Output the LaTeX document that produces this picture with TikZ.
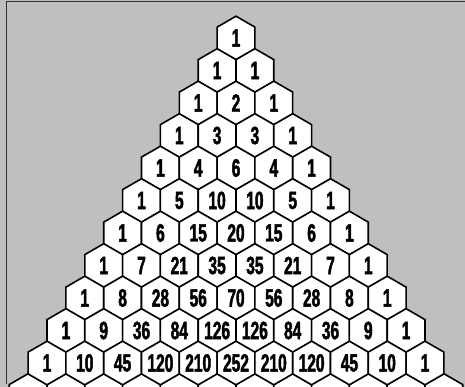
\documentclass[tikz,border=0pt]{standalone}
\usepackage{fontspec}
\newfontfamily\numfont[FakeStretch=0.62,FakeBold=1.8]{Liberation Sans}
\definecolor{bggray}{gray}{0.75}
\begin{document}
\begin{tikzpicture}[x=1pt,y=-1pt,
  hexline/.style={draw=black, line width=1.6pt, fill=white, line join=miter},
  numtext/.style={inner sep=0pt, font=\numfont\bfseries\fontsize{25}{25}\selectfont},
  frameline/.style={draw=black!80, line width=0.9pt}
]
\useasboundingbox (0,0) rectangle (465,387);
\clip (0,0) rectangle (465,387);
\fill[bggray] (0,0) rectangle (465,387);
\coordinate (tl) at (6,1);
\coordinate (bl) at (6,384);
\coordinate (tr) at (465,1);
\draw[frameline] (bl) -- (tl) -- (tr);
\foreach \j in {0,...,11} {
  \coordinate (c-11-\j) at ({236+(\j-5.5)*37.8},{38+11*32.5});
  \path[hexline] (c-11-\j) +(90:21.8) -- +(150:21.8) -- +(210:21.8) -- +(270:21.8) -- +(330:21.8) -- +(30:21.8) -- cycle;
}
\foreach \row [count=\i from 0] in {{1},{1,1},{1,2,1},{1,3,3,1},{1,4,6,4,1},{1,5,10,10,5,1},
  {1,6,15,20,15,6,1},{1,7,21,35,35,21,7,1},{1,8,28,56,70,56,28,8,1},
  {1,9,36,84,126,126,84,36,9,1},{1,10,45,120,210,252,210,120,45,10,1}} {
  \foreach \v [count=\j from 0] in \row {
    \coordinate (c-\i-\j) at ({236+(\j-\i/2)*37.8},{38+\i*32.5});
    \path[hexline] (c-\i-\j) +(90:21.8) -- +(150:21.8) -- +(210:21.8) -- +(270:21.8) -- +(330:21.8) -- +(30:21.8) -- cycle;
    \node[numtext] (h-\i-\j) at (c-\i-\j) {\v};
  }
}
\end{tikzpicture}
\end{document}
